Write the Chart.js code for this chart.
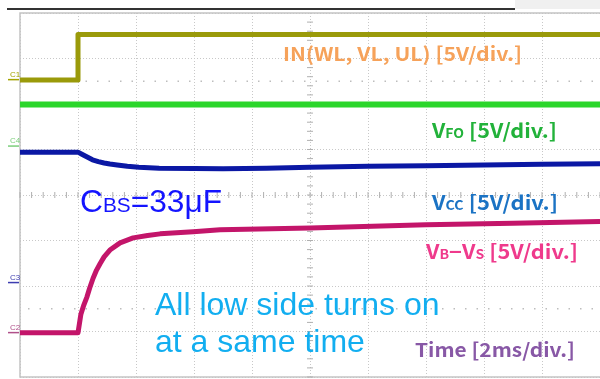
<!DOCTYPE html>
<html>
<head>
<meta charset="utf-8">
<script src="https://cdn.jsdelivr.net/npm/chart.js@4.4.0/dist/chart.umd.min.js"></script>
<style>
  html, body { margin: 0; padding: 0; background: #fff; }
  #wrap { width: 600px; height: 379px; }
</style>
</head>
<body>
<div id="wrap"><canvas id="scope" width="600" height="379"></canvas></div>
<script>
// Zeitachse in ms (2 ms/div), Schaltflanke bei t = 0
const timeMin = -2;
const timeMax = 18;
const voltsPerDiv = 5;

// IN(WL, VL, UL)
const inTime = [-2, 0, 0, 18];
const inVolt = [0, 0, 5, 5];

// VFO
const foTime = [-2, 18];
const foVolt = [4.6, 4.6];

// VCC
const vccTime = [-2, 0, 0.15, 0.3, 0.5, 0.7, 0.9, 1.1, 1.35, 1.7, 2.1, 2.8, 4, 5, 6.5, 8, 10, 12, 14, 16, 18];
const vccVolt = [14.36, 14.36, 14.1, 13.85, 13.52, 13.32, 13.17, 13.05, 12.95, 12.8, 12.7, 12.6, 12.55, 12.53, 12.6, 12.7, 12.8, 12.86, 12.95, 13.02, 13.08];

// VB-VS
const bsTime = [-2, 0, 0.1, 0.2, 0.31, 0.4, 0.52, 0.64, 0.76, 0.9, 1.1, 1.45, 1.9, 2.4, 2.83, 3.97, 4.9, 8, 12, 15, 18];
const bsVolt = [0, 0, 2.05, 3.05, 3.96, 4.9, 6.0, 6.9, 7.6, 8.35, 9.1, 9.89, 10.44, 10.7, 10.88, 11.1, 11.32, 11.51, 11.87, 12.05, 12.23];

// Masse-Marker der Kanäle (in Divisions von unten)
const gndIn = 6.53, gndFo = 5.07, gndVcc = 2.07, gndBs = 0.97;

function toPoints(ts, vs, gnd) {
  return ts.map((t, i) => ({ x: t, y: gnd + vs[i] / voltsPerDiv }));
}

// Text mit Tiefstellung: parts = [text, size], auf Zielbreite gestaucht/gestreckt
function drawParts(ctx, x, y, parts, color, family, weight, width) {
  const w = weight || 'normal';
  let total = 0;
  parts.forEach(p => {
    ctx.font = w + ' ' + p[1] + 'px ' + family;
    total += ctx.measureText(p[0]).width;
  });
  const k = width ? width / total : 1;
  ctx.save();
  ctx.translate(x, y);
  ctx.scale(k, 1);
  ctx.fillStyle = color;
  ctx.textBaseline = 'alphabetic';
  ctx.textAlign = 'left';
  let cx = 0;
  parts.forEach(p => {
    ctx.font = w + ' ' + p[1] + 'px ' + family;
    ctx.fillText(p[0], cx, 0);
    cx += ctx.measureText(p[0]).width;
  });
  ctx.restore();
}

const labelFont = '"Noto Sans CJK KR", "Noto Sans", sans-serif';
const bigFont = '"Liberation Sans", Arial, sans-serif';

const scopeDecor = {
  id: 'scopeDecor',
  beforeDraw(chart) {
    const ctx = chart.ctx;
    ctx.save();
    ctx.fillStyle = '#fff';
    ctx.fillRect(0, 0, chart.width, chart.height);
    // Kopfleiste
    ctx.fillStyle = '#f0f0f0';
    ctx.fillRect(515, 0, 85, 9);
    ctx.fillStyle = '#333';
    ctx.fillRect(7, 8, 508, 2);
    ctx.restore();
  },
  beforeDatasetsDraw(chart) {
    const ctx = chart.ctx;
    const a = chart.chartArea;
    const xs = chart.scales.x, ys = chart.scales.y;
    ctx.save();
    // Rahmen
    ctx.strokeStyle = '#c4c4c4';
    ctx.lineWidth = 1.5;
    ctx.strokeRect(a.left, a.top, a.right - a.left + 2, a.bottom - a.top);
    // Teilstriche an den Mittelachsen
    const cx = xs.getPixelForValue(8);
    const cy = ys.getPixelForValue(4);
    ctx.strokeStyle = '#b0b0b0';
    ctx.lineWidth = 1;
    ctx.beginPath();
    for (let v = 0; v <= 8; v += 0.2) {
      const py = ys.getPixelForValue(v);
      ctx.moveTo(cx - 3, py); ctx.lineTo(cx + 3, py);
    }
    for (let t = timeMin; t <= timeMax; t += 0.4) {
      const px = xs.getPixelForValue(t);
      ctx.moveTo(px, cy - 3); ctx.lineTo(px, cy + 3);
    }
    ctx.stroke();
    // Punktreihen
    ctx.strokeStyle = '#bdbdbd';
    ctx.lineWidth = 1.5;
    ctx.setLineDash([1.5, 10]);
    [6.5, 1.5].forEach(v => {
      const py = ys.getPixelForValue(v);
      ctx.beginPath();
      ctx.moveTo(a.left + 8, py); ctx.lineTo(a.right, py);
      ctx.stroke();
    });
    ctx.setLineDash([]);
    // Kanalmarker
    const marks = [['C1', gndIn, '#a3a300'], ['C4', gndFo, '#7ccf7c'], ['C3', gndVcc, '#3d3db0'], ['C2', gndBs, '#b0508a']];
    marks.forEach(m => {
      const py = ys.getPixelForValue(m[1]);
      ctx.fillStyle = m[2];
      ctx.font = '8px ' + bigFont;
      ctx.fillText(m[0], 10, py - 3);
      ctx.fillRect(8, py - 1, 11, 1.5);
    });
    ctx.restore();
  },
  afterDatasetsDraw(chart) {
    const ctx = chart.ctx;
    drawParts(ctx, 283, 61, [['IN(WL, VL, UL) [5V/div.]', 19]], '#f6a25a', labelFont, 'bold', 239);
    drawParts(ctx, 432, 138, [['V', 20], ['FO', 13], [' [5V/div.]', 20]], '#22b23a', labelFont, 'bold', 125);
    drawParts(ctx, 432, 210, [['V', 20], ['CC', 13], [' [5V/div.]', 20]], '#1b73c4', labelFont, 'bold', 126);
    drawParts(ctx, 426, 259, [['V', 20], ['B', 13], ['\u2212V', 20], ['S', 13], [' [5V/div.]', 20]], '#ef3a8c', labelFont, 'bold', 152);
    drawParts(ctx, 415, 357, [['Time [2ms/div.]', 19]], '#8858a6', labelFont, 'bold', 160);
    drawParts(ctx, 80, 212, [['C', 32], ['BS', 21], ['=33\u03bcF', 32]], '#1414ff', bigFont, 'normal', 142);
    drawParts(ctx, 155, 315, [['All low side turns on', 32]], '#12aef0', bigFont);
    drawParts(ctx, 155, 352, [['at a same time', 32]], '#12aef0', bigFont);
  }
};

new Chart(document.getElementById('scope'), {
  type: 'line',
  data: {
    datasets: [
      { label: 'IN', data: toPoints(inTime, inVolt, gndIn), borderColor: '#9a9a0a', borderWidth: 5 },
      { label: 'VFO', data: toPoints(foTime, foVolt, gndFo), borderColor: '#2bd62b', borderWidth: 6 },
      { label: 'VCC', data: toPoints(vccTime, vccVolt, gndVcc), borderColor: '#0b18a4', borderWidth: 5 },
      { label: 'VB-VS', data: toPoints(bsTime, bsVolt, gndBs), borderColor: '#c3156a', borderWidth: 5 }
    ]
  },
  options: {
    responsive: false,
    animation: false,
    devicePixelRatio: 1,
    layout: { padding: { left: 20, top: 13, right: 0, bottom: 2 } },
    elements: { point: { radius: 0 }, line: { borderCapStyle: 'butt', borderJoinStyle: 'round', tension: 0 } },
    plugins: { legend: { display: false }, tooltip: { enabled: false } },
    scales: {
      x: {
        type: 'linear', min: timeMin, max: timeMax,
        ticks: { display: false, stepSize: 2 },
        grid: { color: '#c8c8c8', drawTicks: false },
        border: { display: false, dash: [1, 2] }
      },
      y: {
        type: 'linear', min: 0, max: 8,
        ticks: { display: false, stepSize: 1 },
        grid: { color: '#c8c8c8', drawTicks: false },
        border: { display: false, dash: [1, 2] }
      }
    }
  },
  plugins: [scopeDecor]
});
</script>
</body>
</html>
